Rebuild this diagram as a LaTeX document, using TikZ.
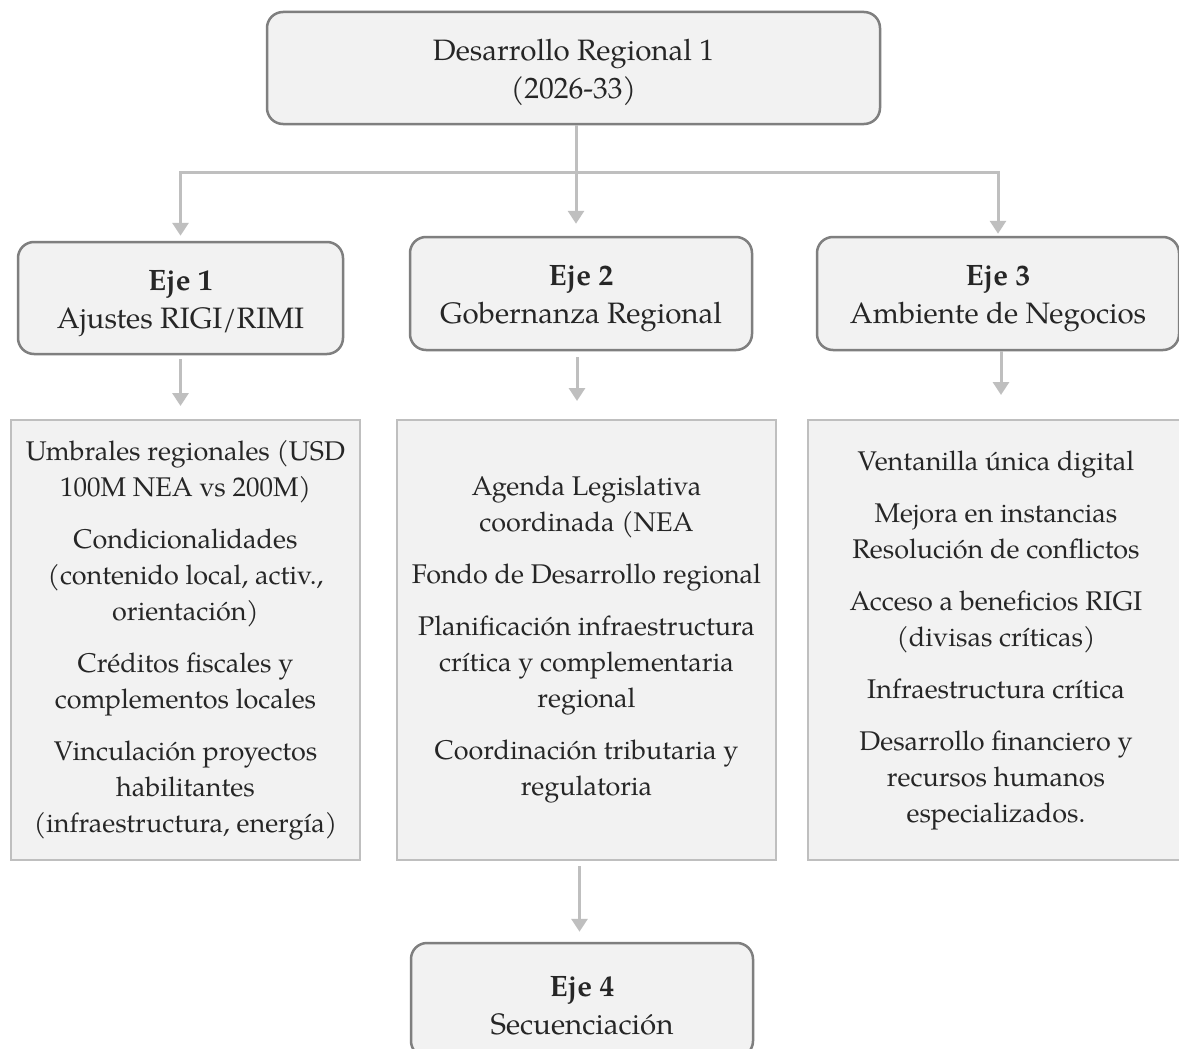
\documentclass[tikz,border=0pt]{standalone}
\usepackage{fontspec}
\setmainfont{TeX Gyre Pagella}
\usetikzlibrary{arrows.meta}
\definecolor{boxfill}{HTML}{F2F2F2}
\definecolor{edge}{HTML}{7F7F7F}
\definecolor{light}{HTML}{BFBFBF}
\definecolor{ink}{HTML}{262626}
\newcommand{\lowr}{\rule{0pt}{31pt}}
\begin{document}
\begin{tikzpicture}[x=1pt,y=-1pt,
  every node/.style={text=ink},
  rbox/.style={draw=edge, line width=2.5pt, fill=boxfill, rounded corners=16pt,
    align=center, inner sep=0pt, font=\fontsize{29.5}{38}\selectfont},
  lbox/.style={draw=light, line width=2pt, fill=boxfill, align=center,
    inner sep=0pt, minimum height=440pt, font=\fontsize{27}{36}\selectfont},
  conn/.style={draw=light, line width=3pt, -{Triangle[width=16pt,length=13pt]}}]
\useasboundingbox (0,0) rectangle (1179,1049);
\fill[white] (0,0) rectangle (1179,1049);

\node[rbox, minimum width=613pt, minimum height=112pt] (top) at (573.5,68)
  {\lowr Desarrollo Regional 1\\(2026-33)};
\node[rbox, minimum width=325pt, minimum height=112pt] (eje1) at (180.5,298)
  {\lowr\textbf{Eje 1}\\Ajustes RIGI/RIMI};
\node[rbox, minimum width=342pt, minimum height=113pt] (eje2) at (581,293.5)
  {\lowr\textbf{Eje 2}\\Gobernanza Regional};
\node[rbox, minimum width=362pt, minimum height=113pt] (eje3) at (998,293.5)
  {\lowr\textbf{Eje 3}\\Ambiente de Negocios};
\node[rbox, minimum width=342pt, minimum height=114pt] (eje4) at (582,1000)
  {\lowr\textbf{Eje 4}\\Secuenciación};

\node[lbox, minimum width=349pt] (list1) at (185.5,640)
  {Umbrales regionales (USD\\100M NEA vs 200M)\\[16pt]
   Condicionalidades\\(contenido local, activ.,\\orientación)\\[16pt]
   Créditos fiscales y\\complementos locales\\[16pt]
   Vinculación proyectos\\habilitantes\\(infraestructura, energía)};
\node[lbox, minimum width=379pt] (list2) at (586.5,640)
  {Agenda Legislativa\\coordinada (NEA\\[16pt]
   Fondo de Desarrollo regional\\[16pt]
   Planificación infraestructura\\crítica y complementaria\\regional\\[16pt]
   Coordinación tributaria y\\regulatoria};
\node[lbox, minimum width=376pt] (list3) at (996,640)
  {Ventanilla única digital\\[16pt]
   Mejora en instancias\\Resolución de conflictos\\[16pt]
   Acceso a beneficios RIGI\\(divisas críticas)\\[16pt]
   Infraestructura crítica\\[16pt]
   Desarrollo financiero y\\recursos humanos\\especializados.};

\coordinate (hub) at (576,172);
\draw[conn] (top.south -| hub) -- (hub) -- ([yshift=12pt]eje2.north -| hub);
\draw[conn] (hub) -| ([yshift=5pt]eje1.north);
\draw[conn] (hub) -| ([yshift=2pt]eje3.north);

\draw[conn] ([shift={(0,4)}]eje1.south) -- ([shift={(0,-13)}]eje1.south |- list1.north);
\draw[conn] ([shift={(-4,6)}]eje2.south) -- ([shift={(-4,-18)}]eje2.south |- list2.north);
\draw[conn] ([shift={(3,0)}]eje3.south) -- ([shift={(3,-24)}]eje3.south |- list3.north);
\draw[conn] ([shift={(-7,5)}]list2.south) -- ([shift={(-7,-10)}]list2.south |- eje4.north);
\end{tikzpicture}
\end{document}
